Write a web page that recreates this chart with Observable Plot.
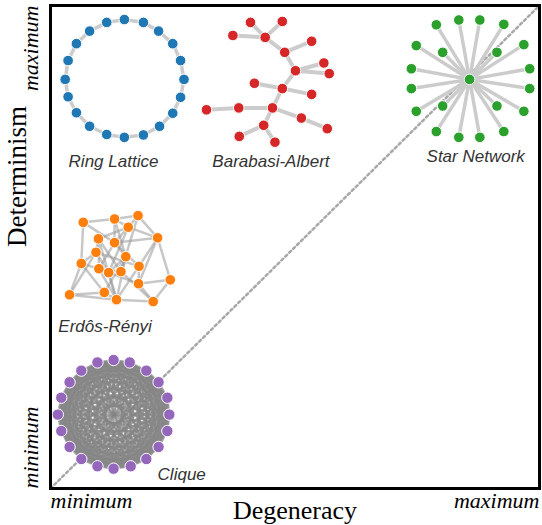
<!DOCTYPE html>
<html><head><meta charset="utf-8">
<script src="https://cdn.jsdelivr.net/npm/d3@7"></script>
<script src="https://cdn.jsdelivr.net/npm/@observablehq/plot@0.6"></script>
<style>body{margin:0;background:#fff}</style>
</head><body><div id="chart"></div>
<script>
// Node layouts, in (degeneracy, determinism) units 0–100
const ringNodes = [[15.1,97.1],[19.0,96.5],[22.1,94.7],[25.0,92.1],[26.6,88.6],[27.3,84.7],[26.6,81.0],[25.0,77.7],[22.3,75.0],[19.0,73.2],[15.1,72.7],[11.5,73.3],[8.0,75.0],[5.3,77.8],[3.6,81.1],[3.0,84.7],[3.6,88.6],[5.3,92.1],[8.0,94.7],[11.5,96.5]];
const ringEdges = [[0,1],[1,2],[2,3],[3,4],[4,5],[5,6],[6,7],[7,8],[8,9],[9,10],[10,11],[11,12],[12,13],[13,14],[14,15],[15,16],[16,17],[17,18],[18,19],[19,0]];

const baNodes = [[40.9,96.5],[47.4,96.7],[37.3,93.8],[43.9,93.4],[53.4,92.6],[47.9,90.3],[55.9,88.1],[50.1,86.5],[57.0,85.9],[41.7,83.9],[47.4,82.8],[53.4,81.6],[31.9,78.4],[38.5,78.8],[45.4,78.8],[51.3,76.7],[56.6,74.5],[43.6,75.2],[38.6,72.9],[45.9,71.7]];
const baEdges = [[0,3],[1,3],[2,3],[3,5],[5,4],[5,7],[7,6],[7,8],[7,10],[10,9],[10,11],[10,14],[14,13],[13,12],[14,15],[15,16],[14,17],[17,18],[17,19]];

const starCenter = [[85.7,84.7]];
const starLeaves = [[78.9,96.0],[83.5,97.0],[87.8,97.0],[92.7,96.1],[96.8,91.9],[98.0,86.9],[98.0,82.8],[96.8,78.1],[92.7,73.9],[87.8,72.7],[83.5,72.7],[78.9,73.9],[74.8,78.1],[73.8,82.8],[73.8,86.9],[74.8,91.7],[80.2,90.3],[91.3,90.3],[91.3,79.2],[80.2,79.2]];

const erNodes = [[6.7,55.1],[13.1,55.8],[17.9,56.5],[15.9,54.1],[21.9,51.9],[9.8,51.7],[13.1,50.9],[9.3,48.9],[15.4,48.0],[6.3,46.6],[9.9,45.5],[11.9,44.7],[14.4,44.9],[18.1,46.0],[18.0,42.4],[24.5,43.2],[3.9,40.1],[11.0,40.6],[13.5,39.1],[21.0,38.7]];
const erEdges = [[0,1],[1,2],[0,9],[0,6],[1,3],[1,8],[2,3],[2,4],[2,12],[3,4],[3,5],[3,6],[3,11],[4,15],[4,14],[4,13],[4,6],[5,7],[5,12],[5,18],[6,8],[6,10],[6,13],[7,9],[7,11],[7,13],[8,12],[8,18],[8,17],[9,16],[9,10],[9,17],[10,18],[11,14],[11,18],[12,19],[13,14],[13,18],[14,19],[15,19],[16,17],[16,7],[16,18],[17,18],[18,19],[10,12],[11,8],[14,15],[1,6],[5,10]];

const cliqueNodes = [[12.9,26.6],[16.2,26.1],[19.6,24.4],[22.1,22.0],[23.9,18.8],[24.3,15.3],[23.9,11.9],[22.1,8.6],[19.6,6.1],[16.4,4.6],[12.9,4.1],[9.6,4.6],[6.3,6.1],[3.9,8.6],[2.2,11.9],[1.5,15.3],[2.2,18.8],[3.9,22.0],[6.3,24.4],[9.6,26.1]];

const netNames = ["Ring Lattice","Barabasi-Albert","Star Network","Erdôs-Rényi","Clique"];
const netLabelX = [3.7,33.1,76.9,1.6,21.9];
const netLabelY = [67.7,67.7,68.7,33.5,2.9];
const netColors = ["#1f77b4","#d62728","#2ca02c","#ff7f0e","#9467bd"];

const diagX = [0,100];
const diagY = [0,100];
const xTickValues = [0,100];
const xTickLabels = ["minimum","maximum"];
const yTickValues = [0,100];
const yTickLabels = ["minimum","maximum"];
const xTitle = "Degeneracy";
const yTitle = "Determinism";

// build link tables
const links = (nodes, pairs) => pairs.map(([a,b]) => ({x1:nodes[a][0],y1:nodes[a][1],x2:nodes[b][0],y2:nodes[b][1]}));
const starLinks = starLeaves.map(l => ({x1:starCenter[0][0],y1:starCenter[0][1],x2:l[0],y2:l[1]}));
const cliquePairs = [];
for (let i=0;i<cliqueNodes.length;i++) for (let j=i+1;j<cliqueNodes.length;j++) cliquePairs.push([i,j]);
const labels = netNames.map((n,i)=>({name:n,x:netLabelX[i],y:netLabelY[i]}));

const serif = "'Liberation Serif','Times New Roman',serif";
const sans = "'Liberation Sans',Arial,sans-serif";
const xy = {x:d=>d[0], y:d=>d[1]};
const nodeStyle = {r:5.3, stroke:"white", strokeWidth:1};
const L = {x1:"x1",y1:"y1",x2:"x2",y2:"y2"};
const tickText = {tickSize:0, fontSize:22, fontStyle:"italic", fontWeight:"normal", fontFamily:serif, fill:"black", label:null};

const chart = Plot.plot({
  width:542, height:525,
  marginLeft:50, marginRight:3, marginTop:5, marginBottom:37,
  x:{domain:[0,100]}, y:{domain:[0,100]},
  style:{background:"white"},
  marks:[
    Plot.line(diagX.map((x,i)=>[x,diagY[i]]), {...xy, stroke:"#a8a8a8", strokeWidth:2.5, strokeDasharray:"2.5,3"}),
    Plot.link(links(ringNodes, ringEdges), {...L, stroke:"#cccccc", strokeWidth:3.5}),
    Plot.link(links(baNodes, baEdges), {...L, stroke:"#cccccc", strokeWidth:4}),
    Plot.link(starLinks, {...L, stroke:"#cccccc", strokeWidth:3.5}),
    Plot.link(links(erNodes, erEdges), {...L, stroke:"#999999", strokeOpacity:0.55, strokeWidth:2.5}),
    Plot.link(links(cliqueNodes, cliquePairs), {...L, stroke:"#858585", strokeOpacity:0.75, strokeWidth:2.2}),
    Plot.dot(ringNodes, {...xy, ...nodeStyle, fill:netColors[0]}),
    Plot.dot(baNodes, {...xy, ...nodeStyle, fill:netColors[1]}),
    Plot.dot(starLeaves, {...xy, ...nodeStyle, fill:netColors[2]}),
    Plot.dot(starCenter, {...xy, ...nodeStyle, fill:netColors[2]}),
    Plot.dot(erNodes, {...xy, ...nodeStyle, fill:netColors[3]}),
    Plot.dot(cliqueNodes, {...xy, ...nodeStyle, r:5.7, fill:netColors[4]}),
    Plot.text(labels, {x:"x", y:"y", text:"name", textAnchor:"start", fontStyle:"italic", fontSize:17, fill:"#333", fontFamily:sans}),
    Plot.frame({stroke:"black", strokeWidth:3}),
    Plot.axisX([xTickValues[0]], {...tickText, anchor:"bottom", tickPadding:4, textAnchor:"start", tickFormat:d=>xTickLabels[xTickValues.indexOf(d)]}),
    Plot.axisX([xTickValues[1]], {...tickText, anchor:"bottom", tickPadding:4, textAnchor:"end", tickFormat:d=>xTickLabels[xTickValues.indexOf(d)]}),
    Plot.axisY([yTickValues[0]], {...tickText, anchor:"left", tickPadding:10, dx:-3, rotate:-90, textAnchor:"start", lineAnchor:"bottom", tickFormat:d=>yTickLabels[yTickValues.indexOf(d)]}),
    Plot.axisY([yTickValues[1]], {...tickText, anchor:"left", tickPadding:10, dx:-3, rotate:-90, textAnchor:"end", lineAnchor:"bottom", tickFormat:d=>yTickLabels[yTickValues.indexOf(d)]}),
    Plot.text([xTitle], {frameAnchor:"bottom", dy:22, lineAnchor:"middle", fontSize:26, fontFamily:serif, fill:"black"}),
    Plot.text([yTitle], {frameAnchor:"left", dx:-33, rotate:-90, lineAnchor:"middle", fontSize:27, fontFamily:serif, fill:"black"})
  ]
});
document.getElementById("chart").appendChild(chart);
</script>
</body></html>
